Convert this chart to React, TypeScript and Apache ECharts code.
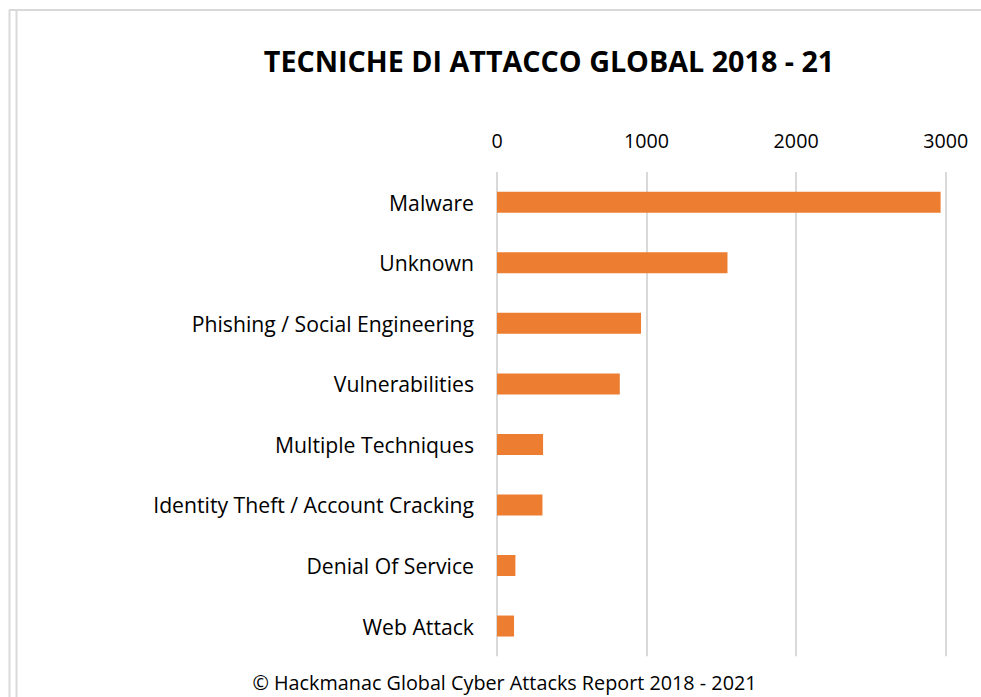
import React, { useEffect, useRef } from "react";
import * as echarts from "echarts";

const categories = [
  "Malware",
  "Unknown",
  "Phishing / Social Engineering",
  "Vulnerabilities",
  "Multiple Techniques",
  "Identity Theft / Account Cracking",
  "Denial Of Service",
  "Web Attack",
];
const values = [2966, 1541, 963, 821, 308, 304, 123, 114];
const titleText = "TECNICHE DI ATTACCO GLOBAL 2018 - 21";
const footerText = "© Hackmanac Global Cyber Attacks Report 2018 - 2021";

const FONT = "'Open Sans', Lato, sans-serif";

export default function App() {
  const ref = useRef<HTMLDivElement>(null);
  useEffect(() => {
    if (!ref.current) return;
    const chart = echarts.init(ref.current, null, { renderer: "svg" });
    chart.setOption({
      animation: false,
      backgroundColor: "#ffffff",
      textStyle: { fontFamily: FONT },
      grid: { left: 497, right: 35.3, top: 172, bottom: 40.7, containLabel: false },
      xAxis: {
        type: "value",
        position: "top",
        min: 0,
        max: 3000,
        interval: 1000,
        axisLine: { show: false },
        axisTick: { show: false },
        splitLine: { show: true, lineStyle: { color: "#d9d9d9", width: 2 } },
        axisLabel: {
          color: "#000",
          fontSize: 19.7,
          fontFamily: FONT,
          margin: 22,
          formatter: (v: number) => String(v),
        },
      },
      yAxis: {
        type: "category",
        inverse: true,
        data: categories,
        axisLine: { show: false },
        axisTick: { show: false },
        axisLabel: { color: "#000", fontSize: 21.2, fontFamily: FONT, margin: 23 },
      },
      series: [
        {
          type: "bar",
          data: values,
          barWidth: 21,
          itemStyle: { color: "#ED7D31" },
        },
      ],
      graphic: [
        { type: "line", shape: { x1: 9.5, y1: 10, x2: 9.5, y2: 697 }, style: { stroke: "#d9d9d9", lineWidth: 2 } },
        { type: "line", shape: { x1: 16.5, y1: 10, x2: 16.5, y2: 697 }, style: { stroke: "#d9d9d9", lineWidth: 2 } },
        { type: "line", shape: { x1: 9, y1: 10, x2: 981, y2: 10 }, style: { stroke: "#d9d9d9", lineWidth: 2 } },
        {
          type: "text",
          x: 549,
          y: 60,
          style: {
            text: titleText,
            fontFamily: FONT,
            fontWeight: "bold",
            fontSize: 28.7,
            fill: "#000",
            align: "center",
            verticalAlign: "middle",
          },
        },
        {
          type: "text",
          x: 504.5,
          y: 682,
          style: {
            text: footerText,
            fontFamily: FONT,
            fontSize: 19.8,
            fill: "#000",
            align: "center",
            verticalAlign: "middle",
          },
        },
      ],
    });
    return () => chart.dispose();
  }, []);
  return (
    <div
      ref={ref}
      style={{ position: "fixed", left: 0, top: 0, width: 981, height: 697 }}
    />
  );
}
